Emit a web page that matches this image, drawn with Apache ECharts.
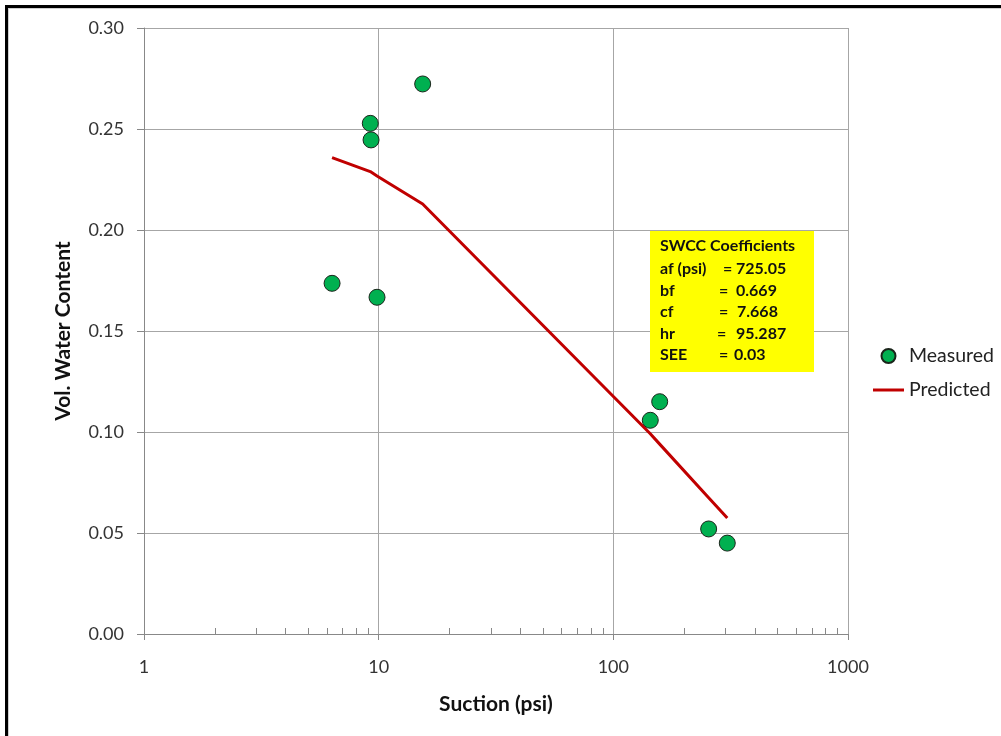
<!DOCTYPE html>
<html>
<head>
<meta charset="utf-8">
<script src="https://cdn.jsdelivr.net/npm/echarts@6/dist/echarts.min.js"></script>
<style>
  html, body { margin: 0; padding: 0; background: #fff; }
  #chart { width: 1001px; height: 736px; }
</style>
</head>
<body>
<div id="chart"></div>
<script>
// Suction values (psi) for each test point
const suction = [6.33, 9.21, 9.28, 9.84, 15.4, 143.7, 157.6, 254.8, 305.9];
// Measured volumetric water content
const measured = [0.1736, 0.2528, 0.2446, 0.1667, 0.2723, 0.1058, 0.1150, 0.0520, 0.0450];
// SWCC-predicted volumetric water content at the same suctions
const predicted = [0.2358, 0.2289, 0.2286, 0.2267, 0.2129, 0.0991, 0.0940, 0.0675, 0.0574];
// Minor tick positions on the log axis
const minorTicks = [2, 3, 4, 5, 6, 7, 8, 9, 20, 30, 40, 50, 60, 70, 80, 90, 200, 300, 400, 500, 600, 700, 800, 900];
// Fitted coefficient box lines
const coefLabels = ['af (psi)', 'bf', 'cf', 'hr', 'SEE'];
const coefValues = ['725.05', '0.669', '7.668', '95.287', '0.03'];

const FONT = 'Lato, "Open Sans", sans-serif';
const chart = echarts.init(document.getElementById('chart'), null, { renderer: 'canvas' });

// column widths for the label and "=" parts of each coefficient line
const labelW = [63, 59, 59, 57, 59];
const eqW = [13, 17, 18, 19, 15];
const coefTexts = coefLabels.map((lab, i) => ({
  type: 'text',
  left: 660, top: 261 + i * 21.5,
  style: {
    text: '{a|' + lab + '}{b|=}{c|' + coefValues[i] + '}',
    rich: {
      a: { width: labelW[i], fontFamily: FONT, fontWeight: 'bold', fontSize: 16, fill: '#111' },
      b: { width: eqW[i], fontFamily: FONT, fontWeight: 'bold', fontSize: 16, fill: '#111' },
      c: { fontFamily: FONT, fontWeight: 'bold', fontSize: 16, fill: '#111' }
    }
  },
  z: 101
}));

chart.setOption({
  animation: false,
  grid: { left: 144, right: 153, top: 28, bottom: 102, containLabel: false },
  legend: {
    orient: 'vertical',
    left: 868, top: 341,
    itemWidth: 31, itemHeight: 14, itemGap: 14,
    symbolKeepAspect: true,
    textStyle: { fontFamily: FONT, fontSize: 19.5, color: '#222' },
    data: [
      { name: 'Measured', icon: 'circle' },
      { name: 'Predicted', icon: 'path://M0,0 H31 V3 H0 Z' }
    ]
  },
  xAxis: {
    type: 'log', logBase: 10, min: 1, max: 1000,
    name: 'Suction (psi)', nameLocation: 'middle', nameGap: 60,
    nameTextStyle: { fontFamily: FONT, fontWeight: 'bold', fontSize: 21, color: '#111' },
    axisLine: { onZero: false, lineStyle: { color: '#888', width: 1 } },
    axisTick: { show: true, inside: false, length: 6, lineStyle: { color: '#888' } },
    axisLabel: { fontFamily: FONT, fontSize: 18, color: '#333', margin: 24, formatter: v => String(Math.round(v)) },
    splitLine: { show: true, lineStyle: { color: '#a6a6a6', width: 1 } },
    minorTick: { show: false }
  },
  yAxis: {
    type: 'value', min: 0, max: 0.3, interval: 0.05,
    name: 'Vol. Water Content', nameLocation: 'middle', nameGap: 70, nameRotate: 90,
    nameTextStyle: { fontFamily: FONT, fontWeight: 'bold', fontSize: 21, color: '#111' },
    axisLine: { show: true, lineStyle: { color: '#888', width: 1 } },
    axisTick: { show: true, inside: false, length: 7, lineStyle: { color: '#888' } },
    axisLabel: { fontFamily: FONT, fontSize: 18, color: '#333', margin: 20, formatter: v => v.toFixed(2) },
    splitLine: { show: true, lineStyle: { color: '#a6a6a6', width: 1 } }
  },
  series: [
    {
      name: 'Predicted', type: 'line',
      data: suction.map((s, i) => [s, predicted[i]]),
      symbol: 'none', smooth: false,
      lineStyle: { color: '#C00000', width: 3 },
      itemStyle: { color: '#C00000' },
      z: 3
    },
    {
      name: 'Measured', type: 'scatter',
      data: suction.map((s, i) => [s, measured[i]]),
      symbol: 'circle', symbolSize: 16,
      itemStyle: { color: '#00B050', borderColor: '#1a241a', borderWidth: 1, opacity: 1 },
      z: 4
    },
    {
      name: 'minor', type: 'custom', silent: true,
      data: minorTicks.map(v => [v, 0]),
      renderItem: (params, api) => {
        const p = api.coord([api.value(0), 0]);
        const x = Math.round(p[0]) + 0.5;
        return {
          type: 'line',
          shape: { x1: x, y1: p[1], x2: x, y2: p[1] - 6 },
          style: { stroke: '#888', lineWidth: 1 }
        };
      },
      z: 5
    }
  ],
  graphic: [
    // Sheet frame on the left and top edges
    { type: 'rect', left: 5, top: 5, shape: { width: 3, height: 740 }, style: { fill: '#000' }, z: 200 },
    { type: 'rect', left: 5, top: 5, shape: { width: 1000, height: 3 }, style: { fill: '#000' }, z: 200 },
    { type: 'rect', left: 8, top: 8, shape: { width: 1, height: 740 }, style: { fill: '#cfcfcf' }, z: 200 },
    { type: 'rect', left: 8, top: 8, shape: { width: 1000, height: 1 }, style: { fill: '#cfcfcf' }, z: 200 },
    // Coefficient box
    { type: 'rect', left: 650, top: 231, shape: { width: 164, height: 141 }, style: { fill: '#FFFF00' }, z: 100 },
    {
      type: 'text', left: 660, top: 238,
      style: { text: 'SWCC Coefficients', fontFamily: FONT, fontWeight: 'bold', fontSize: 16, fill: '#111' },
      z: 101
    }
  ].concat(coefTexts)
});
</script>
</body>
</html>
